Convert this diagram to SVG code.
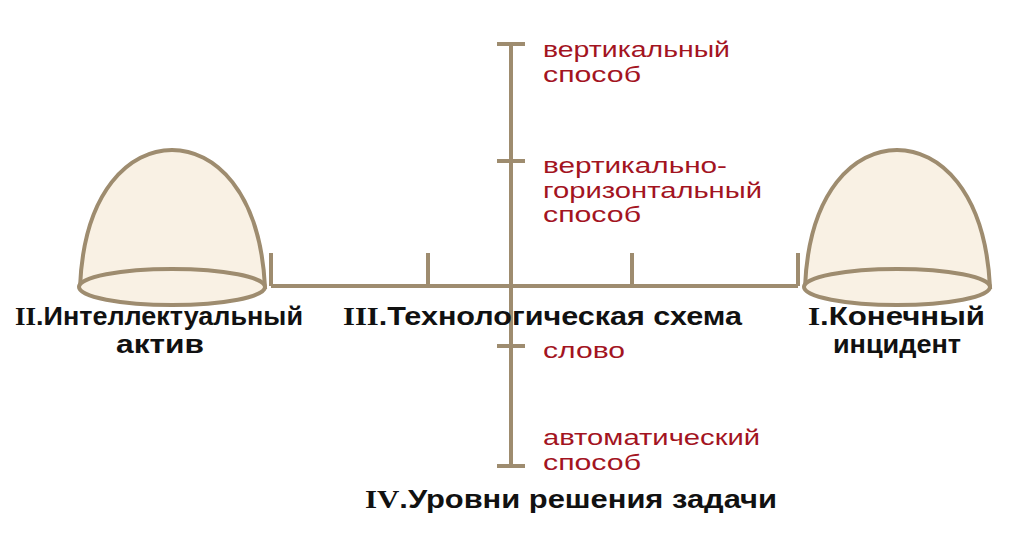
<svg xmlns="http://www.w3.org/2000/svg" width="1024" height="559" viewBox="0 0 1024 559">
<style>
.ln{stroke:#9e8c6f;stroke-width:4;fill:none}
.dome{fill:#f9f1e4;stroke:#9e8c6f;stroke-width:4}
.b{font-family:"Liberation Sans",Arial,sans-serif;font-weight:bold;font-size:25px;fill:#111}
.r{font-family:"Liberation Sans",Arial,sans-serif;font-size:22px;fill:#a3141f}
.rn{font-family:"Liberation Serif",serif;font-weight:bold}
</style>
<rect width="1024" height="559" fill="#fff"/>
<g id="connectors">
<path class="ln" d="M511 44V466M497 44H525M497 161H525M497 346H525M497 466H525"/>
<path class="ln" d="M271 286H798M271 253V286M428 253V286M632 253V286M798 253V286"/>
</g>
<g id="dome-left">
<path class="dome" d="M80 287C84 190 130 150 172 150C214 150 260 190 265 287Z"/>
<ellipse class="dome" cx="172" cy="287" rx="93" ry="18"/>
</g>
<g id="dome-right">
<path class="dome" d="M805 287C809 190 855 150 897 150C939 150 985 190 990 287Z"/>
<ellipse class="dome" cx="897" cy="287" rx="93" ry="18"/>
</g>
<g id="label-2"><text class="b" x="15" y="325" textLength="288" lengthAdjust="spacingAndGlyphs"><tspan class="rn">II</tspan>.Интеллектуальный</text><text class="b" x="160" y="353" text-anchor="middle" textLength="88" lengthAdjust="spacingAndGlyphs">актив</text></g>
<g id="label-3"><text class="b" x="343" y="325" textLength="399" lengthAdjust="spacingAndGlyphs"><tspan class="rn">III</tspan>.Технологическая схема</text></g>
<g id="label-1"><text class="b" x="808" y="325" textLength="177" lengthAdjust="spacingAndGlyphs"><tspan class="rn">I</tspan>.Конечный</text><text class="b" x="897" y="353" text-anchor="middle" textLength="128" lengthAdjust="spacingAndGlyphs">инцидент</text></g>
<g id="label-4"><text class="b" x="365" y="508" textLength="412" lengthAdjust="spacingAndGlyphs"><tspan class="rn">IV</tspan>.Уровни решения задачи</text></g>
<g id="levels">
<text class="r" x="543" y="57" textLength="187" lengthAdjust="spacingAndGlyphs">вертикальный</text>
<text class="r" x="543" y="82" textLength="98" lengthAdjust="spacingAndGlyphs">способ</text>
<text class="r" x="543" y="173" textLength="184" lengthAdjust="spacingAndGlyphs">вертикально-</text>
<text class="r" x="543" y="198" textLength="219" lengthAdjust="spacingAndGlyphs">горизонтальный</text>
<text class="r" x="543" y="222" textLength="98" lengthAdjust="spacingAndGlyphs">способ</text>
<text class="r" x="543" y="358" textLength="82" lengthAdjust="spacingAndGlyphs">слово</text>
<text class="r" x="543" y="445" textLength="217" lengthAdjust="spacingAndGlyphs">автоматический</text>
<text class="r" x="543" y="470" textLength="98" lengthAdjust="spacingAndGlyphs">способ</text>
</g>
</svg>
